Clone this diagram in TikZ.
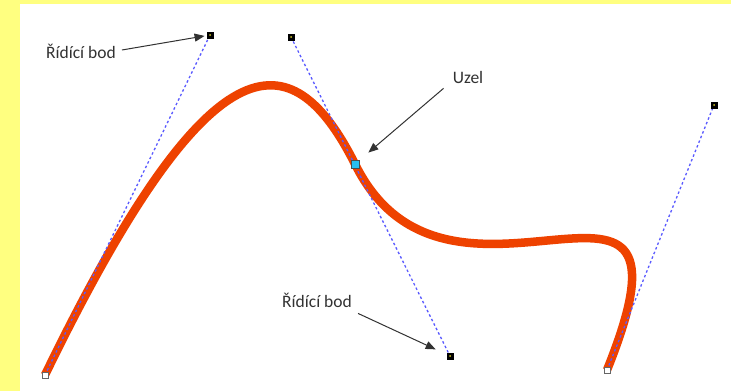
\documentclass[tikz,border=0pt]{standalone}
\usepackage{fontspec}
\setmainfont{Carlito}
\usepackage{tikz}
\usetikzlibrary{arrows.meta,positioning,calc}
\definecolor{PageYellow}{RGB}{255,255,128}
\definecolor{PathRed}{RGB}{238,66,0}
\definecolor{HandleBlue}{RGB}{90,90,255}
\definecolor{NodeCyan}{RGB}{40,190,240}
\definecolor{LabelInk}{RGB}{50,50,50}

\begin{document}
\begin{tikzpicture}[x=1pt,y=-1pt,
    ctrl/.style={draw=black,fill=black,minimum size=6.5pt,inner sep=0pt},
    anchorpt/.style={draw=black!60,fill=white,line width=1pt,minimum size=6pt,inner sep=0pt},
    handle/.style={HandleBlue,line width=1.3pt,dash pattern=on 2.5pt off 2.5pt},
    pointer/.style={LabelInk,line width=1pt,-{Triangle[length=10pt,width=8pt]}},
    lbl/.style={LabelInk,font=\fontsize{17.5}{20}\selectfont,inner sep=0pt}]
  % page background
  \useasboundingbox (0,0) rectangle (731,391);
  \fill[PageYellow] (0,0) rectangle (731,391);
  \fill[white] (20,4) rectangle (731,391);

  % nodes of the path and their control points
  \coordinate (p0) at (45,375);
  \coordinate (p1) at (355,164);
  \coordinate (p2) at (607,370);
  \coordinate (q1) at (210,35);
  \coordinate (q2) at (291,37);
  \coordinate (q3) at (450,356);
  \coordinate (q4) at (714,105);

  % the bezier path itself
  \draw[PathRed,line width=8.5pt]
    (p0) .. controls (q1) and (q2) .. (p1)
         .. controls (q3) and (q4) .. (p2);

  % handles
  \draw[handle] (p0) -- (q1);
  \draw[handle] (q2) -- (q3);
  \draw[handle] (p2) -- (q4);

  % markers
  \node[ctrl] (c1) at (q1) {};
  \node[ctrl] (c2) at (q2) {};
  \node[ctrl] (c3) at (q3) {};
  \node[ctrl] (c4) at (q4) {};
  \foreach \c in {c1,c2,c3,c4}
    \fill[yellow!80!black] (\c) circle (1pt);
  \node[anchorpt] (n0) at (p0) {};
  \node[anchorpt] (n2) at (p2) {};
  \node[draw=black!70,fill=NodeCyan,minimum size=8pt,inner sep=0pt] (n1) at (p1) {};

  % labels
  \node[lbl] (labA) at (81,51) {Řídící bod};
  \node[lbl] (labB) at (317,300) {Řídící bod};
  \node[lbl] (labU) at (468,77) {Uzel};
  \draw[pointer,shorten <=6pt,shorten >=2pt] (labA.east) -- (c1);
  \draw[pointer,shorten >=12pt] ([xshift=6pt,yshift=-6pt]labB.south east) -- (c3);
  \draw[pointer,shorten >=12pt] ([xshift=-9pt,yshift=-5pt]labU.south west) -- (n1);
\end{tikzpicture}
\end{document}
